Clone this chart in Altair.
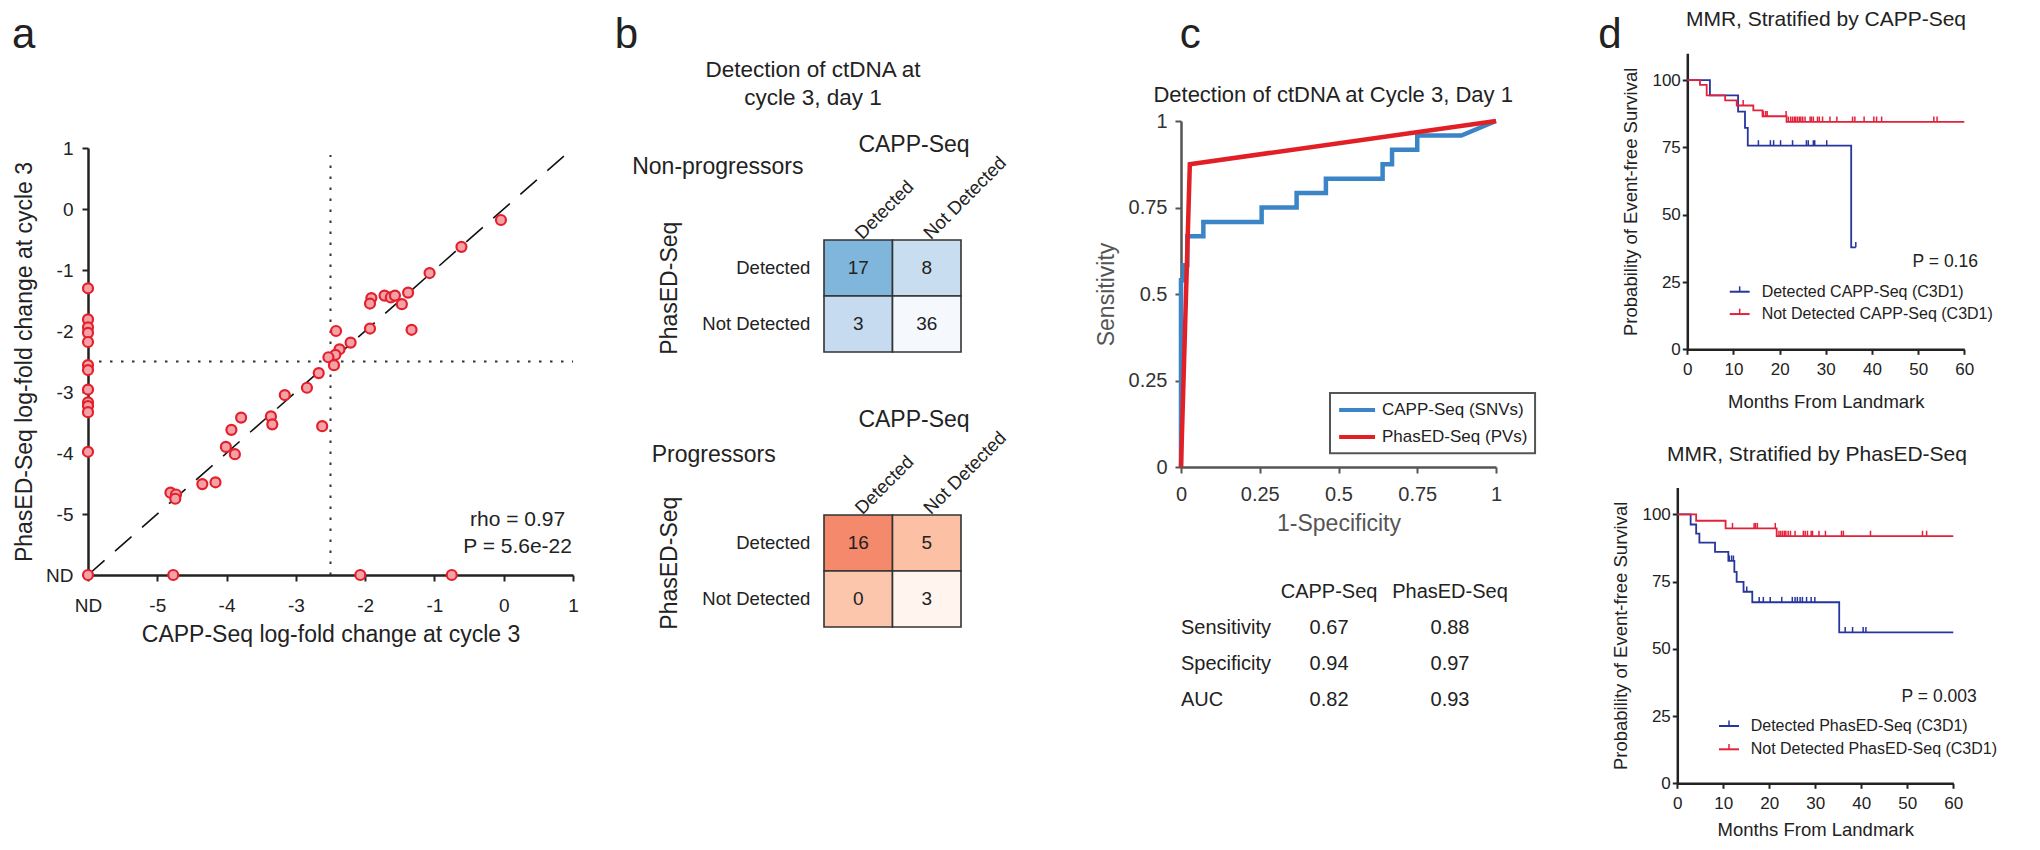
import altair as alt
import pandas as pd

# ===================== DATA =====================
ND = -6  # "not detected" position on both axes of panel a

# panel a -- log-fold change at cycle 3
a_ndx_y = [-1.30, -1.81, -1.94, -2.03, -2.18, -2.56, -2.64, -2.96, -3.17, -3.23, -3.33, -3.98]   # CAPP-Seq ND
a_ndy_x = [-6.0, -4.77, -2.07, -0.75]                                                          # PhasED-Seq ND
a_both_x = [-0.04, -0.61, -1.07, -1.91, -1.93, -1.72, -1.63, -1.57, -1.47, -1.38, -1.33, -1.93,
            -2.42, -2.21, -2.37, -2.43, -2.53, -2.45, -2.67, -2.84, -3.16, -2.62, -3.36, -3.34,
            -3.79, -3.93, -4.01, -3.88, -4.16, -4.35, -4.81, -4.73, -4.74]
a_both_y = [-0.18, -0.62, -1.05, -1.46, -1.55, -1.42, -1.45, -1.42, -1.56, -1.37, -1.98, -1.96,
            -2.00, -2.19, -2.30, -2.39, -2.43, -2.56, -2.69, -2.93, -3.05, -3.56, -3.40, -3.53,
            -3.42, -3.62, -3.90, -4.02, -4.48, -4.51, -4.65, -4.68, -4.75]
a_ticks = [-6, -5, -4, -3, -2, -1, 0, 1]
a_stats = ["rho = 0.97", "P = 5.6e-22"]
a_threshold = -2.5

# panel b -- 2x2 detection tables
cell_col = [0, 1, 0, 1]
cell_row = [1, 1, 0, 0]
np_counts = [17, 8, 3, 36]
pr_counts = [16, 5, 0, 3]
np_fill = ["#80b6db", "#c9ddf0", "#c6dbef", "#f5f9fe"]
pr_fill = ["#f4896c", "#fcc0a4", "#fcc6ac", "#fff4ee"]
det_labels = ["Detected", "Not Detected"]
b_title = ["Detection of ctDNA at", "cycle 3, day 1"]

# panel c -- ROC
capp_fpr = [0, 0, 0.008, 0.008, 0.02, 0.02, 0.071, 0.071, 0.256, 0.256, 0.367, 0.367, 0.46, 0.46,
            0.64, 0.64, 0.67, 0.67, 0.75, 0.75, 0.89, 1.0]
capp_tpr = [0, 0.54, 0.54, 0.583, 0.583, 0.667, 0.667, 0.708, 0.708, 0.75, 0.75, 0.792, 0.792, 0.833,
            0.833, 0.875, 0.875, 0.917, 0.917, 0.958, 0.958, 1.0]
phased_fpr = [0, 0.028, 1.0]
phased_tpr = [0, 0.875, 1.0]
roc_ticks = [0, 0.25, 0.5, 0.75, 1]
roc_names = ["CAPP-Seq (SNVs)", "PhasED-Seq (PVs)"]
metrics = ["Sensitivity", "Specificity", "AUC"]
capp_metric = ["0.67", "0.94", "0.82"]
phased_metric = ["0.88", "0.97", "0.93"]

# panel d -- Kaplan-Meier
km_xticks = [0, 10, 20, 30, 40, 50, 60]
km_yticks = [0, 25, 50, 75, 100]
d1_blue_t = [0, 4.9, 11.0, 12.5, 13.1, 35.5, 36.5]
d1_blue_s = [100, 94.4, 88.3, 82.3, 75.7, 37.9, 37.9]
d1_red_t = [0, 2.75, 4.2, 8.2, 10.7, 14.3, 16.3, 21.5, 60]
d1_red_s = [100, 98.3, 94.4, 92.5, 90.6, 88.8, 86.6, 84.5, 84.5]
d1_blue_ct = [15.4, 18.0, 18.7, 20.2, 22.8, 25.8, 26.2, 27.3, 27.6, 30.2, 36.5]
d1_blue_cs = [75.7] * 10 + [37.9]
d1_red_ct = [12.1, 16.5, 17.0, 17.3, 21.4, 21.9, 22.4, 22.8, 23.2, 23.5, 23.9, 24.3, 24.6, 25.0, 25.5,
             26.6, 26.9, 27.3, 28.2, 28.6, 29.3, 30.9, 32.4, 35.8, 36.3, 38.3, 40.4, 41.0, 42.1, 53.4, 54.1]
d1_red_cs = [90.6, 86.6, 86.6, 86.6, 86.6] + [84.5] * 26
d1_labels = ["Detected CAPP-Seq (C3D1)", "Not Detected CAPP-Seq (C3D1)"]
d1_title = "MMR, Stratified by CAPP-Seq"
d1_p = "P = 0.16"

d2_blue_t = [0, 2.9, 4.1, 4.8, 8.2, 11.1, 12.4, 12.9, 14.4, 16.3, 35.2, 60]
d2_blue_s = [100, 96.2, 92.8, 89.5, 86.0, 82.7, 78.6, 74.9, 71.2, 67.3, 56.1, 56.1]
d2_red_t = [0, 4.1, 10.5, 21.6, 60]
d2_red_s = [100, 97.6, 94.8, 91.9, 91.9]
d2_blue_ct = [11.3, 11.8, 12.2, 15.1, 17.8, 18.7, 20.2, 22.7, 25.0, 25.6, 26.1, 26.7, 27.2, 28.1, 29.1,
              29.9, 36.5, 38.1, 40.4, 41.0]
d2_blue_cs = [82.7] * 3 + [71.2] + [67.3] * 12 + [56.1] * 4
d2_red_ct = [12.0, 16.7, 17.0, 17.4, 21.3, 22.1, 22.5, 22.9, 23.3, 23.6, 24.1, 24.6, 25.6, 27.4, 27.8,
             28.3, 29.1, 29.4, 30.8, 32.2, 35.7, 36.1, 42.0, 53.3, 54.2]
d2_red_cs = [94.8] * 5 + [91.9] * 20
d2_labels = ["Detected PhasED-Seq (C3D1)", "Not Detected PhasED-Seq (C3D1)"]
d2_title = "MMR, Stratified by PhasED-Seq"
d2_p = "P = 0.003"

# ===================== LAYOUT / STYLE =====================
FONT = "Liberation Sans"
INK = "#222222"
M, W, H = 8, 2024, 834
PT_FILL, PT_STROKE = "#f4a2a8", "#e3202b"
ROC_BLUE, ROC_RED = "#3b85c6", "#e31f26"
KM_BLUE, KM_RED = "#27359c", "#e4213b"
LETTER = 42

PA = dict(xd=(-6, 1), xr=(88, 573), yd=(-6, 1), yr=(575, 148))
PB1 = dict(xd=(0, 2), xr=(824, 961), yd=(0, 2), yr=(352, 240))
PB2 = dict(xd=(0, 2), xr=(824, 961), yd=(0, 2), yr=(627, 515))
PC = dict(xd=(0, 1), xr=(1181, 1496), yd=(0, 1), yr=(467, 121))
PD1 = dict(xd=(0, 60), xr=(1687.3, 1964.3), yd=(0, 110), yr=(349.3, 53.3))
PD2 = dict(xd=(0, 60), xr=(1677.3, 1953.3), yd=(0, 110), yr=(783.3, 487.4))


def sc(domain, rng):
    return alt.Scale(domain=list(domain), range=[rng[0] - M, rng[1] - M], nice=False, zero=False)


def ex(field, P, axis=None):
    return alt.X(field, type="quantitative", scale=sc(P["xd"], P["xr"]), axis=axis)


def ey(field, P, axis=None):
    return alt.Y(field, type="quantitative", scale=sc(P["yd"], P["yr"]), axis=axis)


def make_axis(orient, pos, title, values, lab, tit, color=INK, labcolor=INK, titcolor=INK,
              tick=6, labpad=8, titpad=8, expr="'' + datum.value"):
    off = -(pos - M) if orient == "left" else (pos - M) - H
    return alt.Axis(orient=orient, offset=off, title=title, values=values, labelExpr=expr,
                    grid=False, domainColor=color, domainWidth=2.5, tickColor=color, tickWidth=2,
                    tickSize=tick, labelFont=FONT, labelFontSize=lab, labelColor=labcolor,
                    labelPadding=labpad, labelFlush=False, labelOverlap=False, titleFont=FONT,
                    titleFontSize=tit, titleFontWeight="normal", titleColor=titcolor,
                    titlePadding=titpad)


def texts(P, xs, ys, ts, size, align="center", baseline="middle", angle=0, color=INK):
    n = max(len(xs), len(ys), len(ts))
    xs = xs if len(xs) == n else xs * n
    ys = ys if len(ys) == n else ys * n
    df = pd.DataFrame({"x": xs, "y": ys, "t": ts})
    mk = dict(font=FONT, fontSize=size, align=align, baseline=baseline, color=color)
    if angle:
        mk["angle"] = angle
    return alt.Chart(df).mark_text(**mk).encode(x=ex("x", P), y=ey("y", P), text="t:N")


layers = []

# ---------------- panel a ----------------
nd_expr = "datum.value == -6 ? 'ND' : '' + datum.value"
axA_x = make_axis("bottom", 575, "CAPP-Seq log-fold change at cycle 3", a_ticks, 19, 23,
                  tick=6, labpad=15, titpad=8, expr=nd_expr)
axA_y = make_axis("left", 88, "PhasED-Seq log-fold change at cycle 3", a_ticks, 19, 23,
                  tick=6, labpad=9, titpad=9, expr=nd_expr)

layers.append(alt.Chart(pd.DataFrame({"x": [a_threshold], "y": [ND], "y2": [0.885]}))
              .mark_rule(color="#333", strokeWidth=2, strokeDash=[2.5, 8.5])
              .encode(x=ex("x", PA), y=ey("y", PA), y2="y2:Q"))
layers.append(alt.Chart(pd.DataFrame({"x": [ND], "x2": [1], "y": [a_threshold]}))
              .mark_rule(color="#333", strokeWidth=2, strokeDash=[2.5, 8.5])
              .encode(x=ex("x", PA), x2="x2:Q", y=ey("y", PA)))
layers.append(alt.Chart(pd.DataFrame({"x": [ND], "x2": [1], "y": [ND], "y2": [1]}))
              .mark_rule(color="#111", strokeWidth=1.6, strokeDash=[22, 14])
              .encode(x=ex("x", PA), x2="x2:Q", y=ey("y", PA), y2="y2:Q"))
dfA = pd.DataFrame({"x": [ND] * len(a_ndx_y) + a_ndy_x + a_both_x,
                    "y": a_ndx_y + [ND] * len(a_ndy_x) + a_both_y})
layers.append(alt.Chart(dfA)
              .mark_point(shape="circle", filled=True, fill=PT_FILL, stroke=PT_STROKE,
                          strokeWidth=2.2, size=100, opacity=1)
              .encode(x=ex("x", PA, axA_x), y=ey("y", PA, axA_y)))
layers.append(texts(PA, [0.2], [-5.10, -5.54], a_stats, 21))
layers.append(texts(PA, [-6.93], [2.639], ["a"], LETTER, baseline="alphabetic"))

# ---------------- panel b ----------------
for P, counts, fills, group, gx, gy in [(PB1, np_counts, np_fill, "Non-progressors", -2.80, 3.30),
                                        (PB2, pr_counts, pr_fill, "Progressors", -2.515, 3.07)]:
    dfc = pd.DataFrame({"c": cell_col, "r": cell_row, "n": counts, "f": fills})
    layers.append(alt.Chart(dfc)
                  .transform_calculate(c2="datum.c + 1", r2="datum.r + 1")
                  .mark_rect(stroke="#333", strokeWidth=1.6)
                  .encode(x=ex("c", P), x2="c2:Q", y=ey("r", P), y2="r2:Q",
                          fill=alt.Fill("f:N", scale=None)))
    layers.append(alt.Chart(dfc)
                  .transform_calculate(cx="datum.c + 0.5", cy="datum.r + 0.5")
                  .mark_text(font=FONT, fontSize=19, color=INK)
                  .encode(x=ex("cx", P), y=ey("cy", P), text="n:Q"))
    layers.append(texts(P, [0.5, 1.5], [2.07], det_labels, 18.5, align="left", angle=315))
    layers.append(texts(P, [-0.2], [1.5, 0.5], det_labels, 18.5, align="right"))
    layers.append(texts(P, [1.314], [3.70], ["CAPP-Seq"], 23))
    layers.append(texts(P, [-2.25], [1.14], ["PhasED-Seq"], 23, angle=270))
    layers.append(texts(P, [gx], [gy], [group], 23, align="left"))

layers.append(texts(PB1, [-0.16], [5.04, 4.54], b_title, 22.5))
layers.append(texts(PB1, [-2.883], [5.429], ["b"], LETTER, baseline="alphabetic"))

# ---------------- panel c ----------------
axC_x = make_axis("bottom", 467, "1-Specificity", roc_ticks, 20, 23, color="#555", labcolor="#333",
                  titcolor="#555", tick=6, labpad=11, titpad=8)
axC_y = make_axis("left", 1181, "Sensitivity", roc_ticks, 20, 23, color="#555", labcolor="#333",
                  titcolor="#555", tick=6, labpad=8, titpad=10)
dfc1 = pd.DataFrame({"x": capp_fpr, "y": capp_tpr, "i": list(range(len(capp_fpr)))})
dfc2 = pd.DataFrame({"x": phased_fpr, "y": phased_tpr, "i": list(range(len(phased_fpr)))})
layers.append(alt.Chart(dfc1).mark_line(color=ROC_BLUE, strokeWidth=4.5)
              .encode(x=ex("x", PC, axC_x), y=ey("y", PC, axC_y), order="i:Q"))
layers.append(alt.Chart(dfc2).mark_line(color=ROC_RED, strokeWidth=4.5)
              .encode(x=ex("x", PC), y=ey("y", PC), order="i:Q"))
layers.append(texts(PC, [0.483], [1.074], ["Detection of ctDNA at Cycle 3, Day 1"], 22))
# legend
layers.append(alt.Chart(pd.DataFrame({"x": [0.473], "x2": [1.124], "y": [0.040], "y2": [0.214]}))
              .mark_rect(fill="white", stroke="#555", strokeWidth=2)
              .encode(x=ex("x", PC), x2="x2:Q", y=ey("y", PC), y2="y2:Q"))
layers.append(alt.Chart(pd.DataFrame({"x": [0.502, 0.502], "x2": [0.616, 0.616], "y": [0.165, 0.087],
                                      "c": [ROC_BLUE, ROC_RED]}))
              .mark_rule(strokeWidth=4)
              .encode(x=ex("x", PC), x2="x2:Q", y=ey("y", PC), color=alt.Color("c:N", scale=None)))
layers.append(texts(PC, [0.638], [0.165, 0.087], roc_names, 17, align="left"))
# table
layers.append(texts(PC, [0.47, 0.854], [-0.361], ["CAPP-Seq", "PhasED-Seq"], 20))
row_y = [-0.465, -0.569, -0.673]
layers.append(texts(PC, [0.0], row_y, metrics, 20, align="left"))
layers.append(texts(PC, [0.47], row_y, capp_metric, 20))
layers.append(texts(PC, [0.854], row_y, phased_metric, 20))
layers.append(texts(PC, [0.029], [1.211], ["c"], LETTER, baseline="alphabetic"))

# ---------------- panel d ----------------
km_sets = [
    (PD1, 349.3, 1687.3, 15, d1_blue_t, d1_blue_s, d1_red_t, d1_red_s, d1_blue_ct, d1_blue_cs, d1_red_ct,
     d1_red_cs, d1_labels, d1_title, d1_p, (9.19, 13.5, 21.4, 13.1, 16.1), (62.96, 32.55), (30.04, 122.4)),
    (PD2, 783.3, 1677.3, 9, d2_blue_t, d2_blue_s, d2_red_t, d2_red_s, d2_blue_ct, d2_blue_cs, d2_red_ct,
     d2_red_cs, d2_labels, d2_title, d2_p, (9.07, 13.41, 21.3, 12.64, 15.96), (65.09, 32.19), (30.37, 122.0)),
]
for (P, ypos, xpos, tpad, bt, bs, rt, rs, bct, bcs, rct, rcs, labels, title, pval, leg, ppos, tpos) in km_sets:
    axx = make_axis("bottom", ypos, "Months From Landmark", km_xticks, 17, 18.5, tick=5, labpad=7, titpad=tpad)
    axy = make_axis("left", xpos, "Probability of Event-free Survival", km_yticks, 17, 18.5,
                    tick=5, labpad=2, titpad=11)
    layers.append(alt.Chart(pd.DataFrame({"t": bt, "s": bs}))
                  .mark_line(color=KM_BLUE, strokeWidth=1.8, interpolate="step-after")
                  .encode(x=ex("t", P, axx), y=ey("s", P, axy)))
    layers.append(alt.Chart(pd.DataFrame({"t": rt, "s": rs}))
                  .mark_line(color=KM_RED, strokeWidth=1.8, interpolate="step-after")
                  .encode(x=ex("t", P), y=ey("s", P)))
    for ct, cs, col in [(bct, bcs, KM_BLUE), (rct, rcs, KM_RED)]:
        layers.append(alt.Chart(pd.DataFrame({"t": ct, "s": cs}))
                      .transform_calculate(s2="datum.s + 2.0")
                      .mark_rule(color=col, strokeWidth=1.5)
                      .encode(x=ex("t", P), y=ey("s", P), y2="s2:Q"))
    x0, x1, y1, y2, tx = leg
    xm = (x0 + x1) / 2
    layers.append(alt.Chart(pd.DataFrame({"x": [x0, x0], "x2": [x1, x1], "y": [y1, y2],
                                          "c": [KM_BLUE, KM_RED]}))
                  .mark_rule(strokeWidth=2)
                  .encode(x=ex("x", P), x2="x2:Q", y=ey("y", P), color=alt.Color("c:N", scale=None)))
    layers.append(alt.Chart(pd.DataFrame({"x": [xm, xm], "y": [y1, y2], "y2": [y1 + 2.0, y2 + 2.0],
                                          "c": [KM_BLUE, KM_RED]}))
                  .mark_rule(strokeWidth=1.5)
                  .encode(x=ex("x", P), y=ey("y", P), y2="y2:Q", color=alt.Color("c:N", scale=None)))
    layers.append(texts(P, [tx], [y1, y2], labels, 16, align="left"))
    layers.append(texts(P, [ppos[0]], [ppos[1]], [pval], 17.5, align="right"))
    layers.append(texts(P, [tpos[0]], [tpos[1]], [title], 21))

layers.append(texts(PD1, [-16.74], [111.97], ["d"], LETTER, baseline="alphabetic"))

chart = (alt.layer(*layers)
         .resolve_scale(x="independent", y="independent")
         .resolve_axis(x="independent", y="independent")
         .properties(width=W, height=H, padding=0, autosize=alt.AutoSizeParams(type="none"))
         .configure(font=FONT)
         .configure_view(stroke=None))

chart.save("out.html", embed_options={"renderer": "svg", "actions": False})
